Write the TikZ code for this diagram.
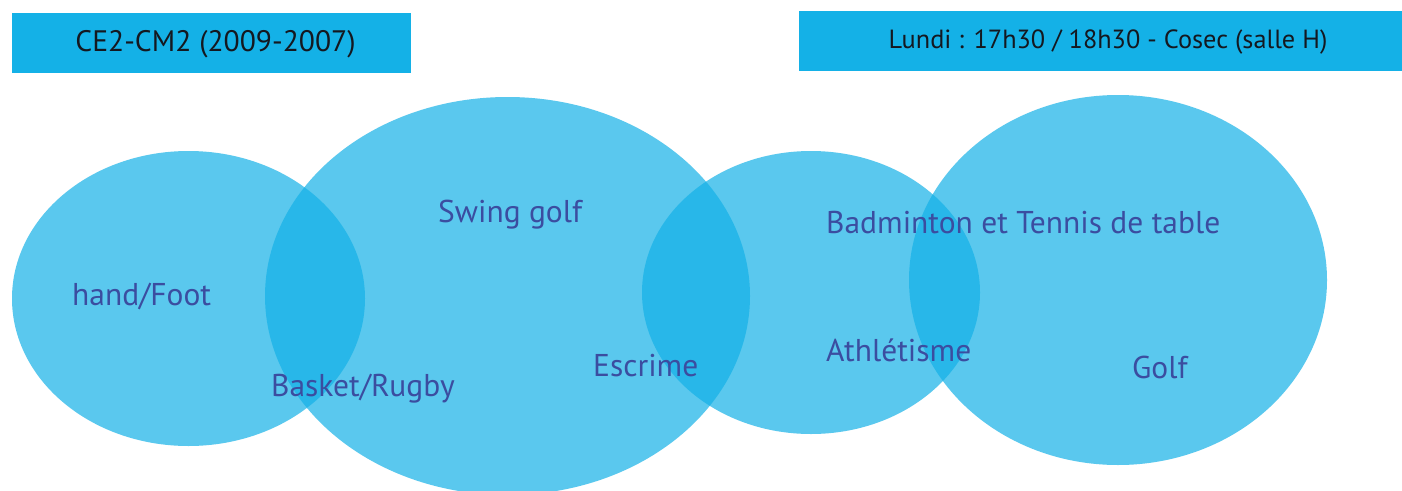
\documentclass[tikz,border=0pt]{standalone}
\usepackage{fontspec}
\setmainfont{PT Sans}
\usetikzlibrary{shapes.geometric}
\definecolor{boxblue}{HTML}{14B1E7}
\definecolor{labelblue}{HTML}{3B4DA0}
\definecolor{headtext}{HTML}{141820}
\tikzset{
  headbox/.style={fill=boxblue, draw=none, inner sep=0pt},
  headlabel/.style={inner sep=0pt, text=headtext},
  blob/.style={ellipse, fill=boxblue, fill opacity=0.7, draw=none, inner sep=0pt},
  sport/.style={anchor=base west, inner sep=0pt, text=labelblue, font=\fontsize{31.5}{36}\selectfont}
}
\begin{document}
\begin{tikzpicture}[x=1pt,y=-1pt]
\useasboundingbox (0,0) rectangle (1402,490);
\fill[white] (0,0) rectangle (1402,490);
% header boxes
\node[headbox, minimum width=399pt, minimum height=60pt] (age) at (211.5,43) {};
\node[headlabel, font=\fontsize{29.6}{34}\selectfont] (agetext) at (215.5,44) {CE2-CM2 (2009-2007)};
\node[headbox, minimum width=603pt, minimum height=60pt] (time) at (1100.5,40.5) {};
\node[headlabel, font=\fontsize{26.3}{30}\selectfont] (timetext) at (1108,42) {Lundi : 17h30 / 18h30 - Cosec (salle H)};
% ellipses
\node[blob, minimum width=353pt, minimum height=295pt] (e1) at (188.5,298.5) {};
\node[blob, minimum width=485pt, minimum height=398pt] (e2) at (507.5,296) {};
\node[blob, minimum width=338pt, minimum height=283pt] (e3) at (811,292.5) {};
\node[blob, minimum width=418pt, minimum height=370pt] (e4) at (1118,280) {};
% labels
\node[sport] (hf) at (72,305) {hand/Foot};
\node[sport] (sg) at (438,222) {Swing golf};
\node[sport] (br) at (271,396) {Basket/Rugby};
\node[sport] (es) at (593,376) {Escrime};
\node[sport] (bt) at (826,233) {Badminton et Tennis de table};
\node[sport] (at) at (826,361) {Athlétisme};
\node[sport] (go) at (1132,378) {Golf};
\end{tikzpicture}
\end{document}
